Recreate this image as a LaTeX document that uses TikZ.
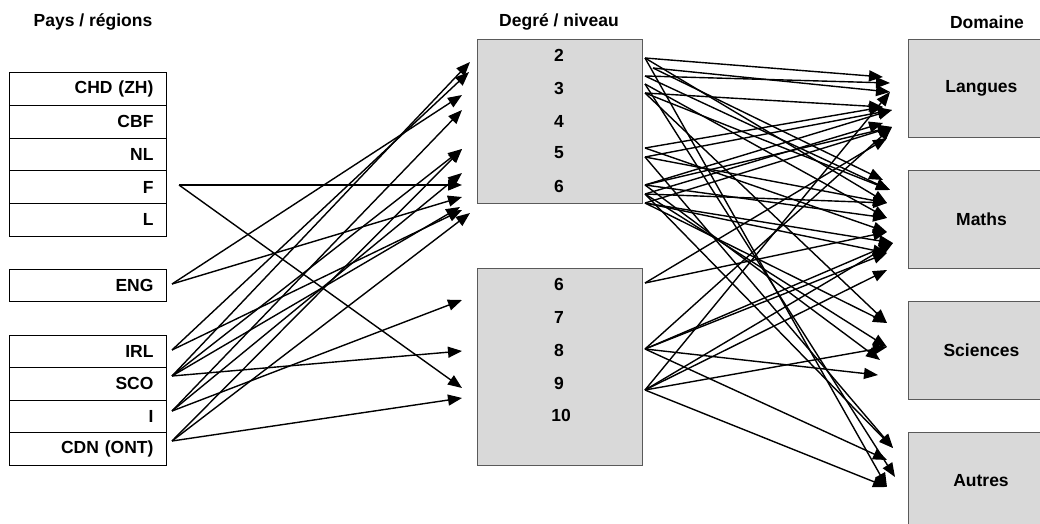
\documentclass[tikz,border=0pt]{standalone}
\usepackage{fontspec}
\setmainfont{Liberation Sans}
\usetikzlibrary{arrows.meta}
\definecolor{boxgray}{RGB}{217,217,217}
\definecolor{edgegray}{RGB}{90,90,90}
\begin{document}
\begin{tikzpicture}[x=1pt,y=-1pt,
  txt/.style={font=\fontsize{17.5}{20}\selectfont\bfseries},
  leftbox/.style={txt,draw=black,line width=0.9pt,fill=white,anchor=north west,
    minimum height=32.6pt,text width=131pt,inner xsep=13pt,inner ysep=0pt,align=right},
  midbox/.style={draw=edgegray,line width=0.9pt,fill=boxgray,anchor=north west,
    minimum width=165pt,inner sep=0pt},
  rbox/.style={txt,draw=edgegray,line width=0.9pt,fill=boxgray,anchor=north west,
    minimum width=146pt,minimum height=98pt,inner sep=0pt},
  num/.style={txt},
  title/.style={txt},
  conn/.style={line width=1.4pt,-{Triangle[length=14pt,width=11pt]}}]
\useasboundingbox (0,0) rectangle (1040,524);
% titles
\node[title] (t1) at (93,22) {Pays / régions};
\node[title] (t2) at (559,22) {Degré / niveau};
\node[title] (t3) at (987,22) {Domaine};
% left boxes
\node[leftbox] (chd) at (9,72.5) {CHD (ZH)};
\node[leftbox] (cbf) at (9,105.1) {CBF};
\node[leftbox] (nl) at (9,137.7) {NL};
\node[leftbox] (f) at (9,170.3) {F};
\node[leftbox] (l) at (9,202.9) {L};
\node[leftbox] (eng) at (9,268.5) {ENG};
\node[leftbox] (irl) at (9,334.5) {IRL};
\node[leftbox] (sco) at (9,367.1) {SCO};
\node[leftbox] (i) at (9,399.7) {I};
\node[leftbox] (cdn) at (9,432.3) {CDN (ONT)};
% middle boxes
\node[midbox,minimum height=164pt] (top) at (477,39) {};
\node[midbox,minimum height=197pt] (bot) at (477,268) {};
\node[num] (n2) at (559,55) {2};
\node[num] (n3) at (559,88) {3};
\node[num] (n4) at (559,121) {4};
\node[num] (n5) at (559,153) {5};
\node[num] (n6) at (559,186) {6};
\node[num] (m6) at (559,284) {6};
\node[num] (m7) at (559,317) {7};
\node[num] (m8) at (559,350) {8};
\node[num] (m9) at (559,383) {9};
\node[num] (m10) at (561,415) {10};
% right boxes
\node[rbox] (lang) at (908,39) {Langues};
\node[rbox] (math) at (908,170) {Maths};
\node[rbox] (sci) at (908,301) {Sciences};
\node[rbox,minimum height=110pt] (aut) at (908,432) {};
\node[txt] (autl) at (981,481) {Autres};
% left sources
\coordinate (sF) at (179,185);
\coordinate (sENG) at (172,284);
\coordinate (sIRL) at (172,350);
\coordinate (sSCO) at (172,376);
\coordinate (sI) at (172,411);
\coordinate (sCDN) at (172,441);
% left tips
\coordinate (tA) at (470,62);
\coordinate (tB) at (469,72);
\coordinate (tC) at (462,95);
\coordinate (tD) at (462,110);
\coordinate (tE) at (462,149);
\coordinate (tF) at (462,173);
\coordinate (tG) at (462,185);
\coordinate (tH) at (462,197);
\coordinate (tI) at (460,207);
\coordinate (tJ) at (462,210);
\coordinate (tK) at (470,213);
\coordinate (tL) at (462,300);
\coordinate (tM) at (462,351);
\coordinate (tN) at (462,388);
\coordinate (tO) at (462,398);
\foreach \s/\t in {sF/tG,sF/tN,sENG/tC,sENG/tH,sIRL/tB,sIRL/tJ,
  sSCO/tA,sSCO/tE,sSCO/tI,sSCO/tM,sI/tD,sI/tF,sI/tL,sCDN/tE,sCDN/tK,sCDN/tO}
  \draw[conn] (\s) -- (\t);
% right sources
\coordinate (r2a) at (645,58);
\coordinate (r2b) at (653,68);
\coordinate (r3a) at (645,76);
\coordinate (r3b) at (645,84);
\coordinate (r3c) at (645,93);
\coordinate (r5a) at (645,148);
\coordinate (r5b) at (645,157);
\coordinate (r6a) at (645,185);
\coordinate (r6b) at (645,194);
\coordinate (r6c) at (645,203);
\coordinate (b6) at (645,283);
\coordinate (b8) at (645,349);
\coordinate (b9) at (645,390);
% right tips
\coordinate (L77) at (883,77);
\coordinate (L83) at (890,83);
\coordinate (L92) at (890,92);
\coordinate (L107) at (883,107);
\coordinate (L110) at (892,110);
\coordinate (L123) at (883,123);
\coordinate (L127) at (892,127);
\coordinate (L138) at (887,138);
\coordinate (M180) at (883,180);
\coordinate (M190) at (890,190);
\coordinate (M203) at (887,203);
\coordinate (M218) at (887,218);
\coordinate (M232) at (887,232);
\coordinate (M243) at (893,243);
\coordinate (M253) at (887,253);
\coordinate (M270) at (887,270);
\coordinate (S323) at (887,323);
\coordinate (S347) at (887,347);
\coordinate (S360) at (880,360);
\coordinate (S375) at (878,375);
\coordinate (A448) at (893,448);
\coordinate (A460) at (887,460);
\coordinate (A477) at (895,477);
\coordinate (A487) at (887,487);
\foreach \s/\t in {r2a/L77,r3a/L83,r2b/L92,r3c/L107,r5a/L107,r5b/L110,r6a/L110,
  r6b/L123,r6a/L127,b8/L127,b6/L138,b9/L92,r6c/L127,
  r2b/M180,r3a/M190,r2a/M203,r3b/M218,r5a/M232,r5b/M203,r6a/M218,r6c/M243,
  r6c/M253,b6/M232,b8/M243,b8/M253,b9/M243,b9/M270,r3c/M190,r6b/M203,
  r3c/S323,r6b/S347,r6a/S360,b8/S375,b9/S347,r6c/S323,
  r2a/A487,r3b/A477,r5b/A448,r6b/A448,b8/A460,b9/A487}
  \draw[conn] (\s) -- (\t);
\end{tikzpicture}
\end{document}
